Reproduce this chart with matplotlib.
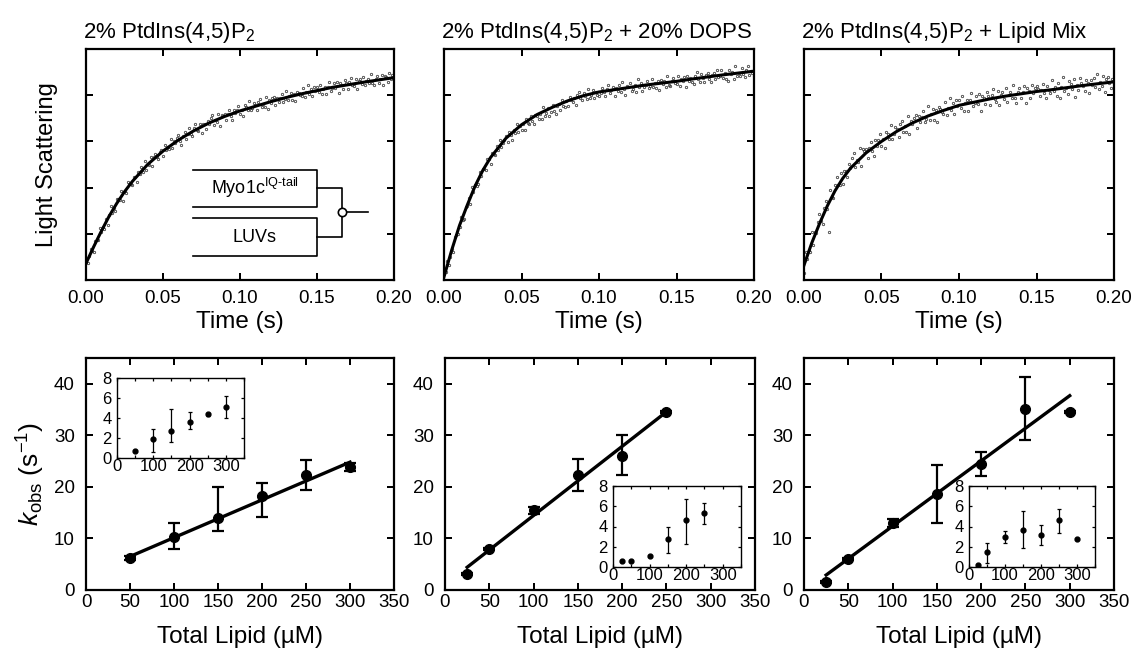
import numpy as np
import matplotlib
matplotlib.use("Agg")
import matplotlib.pyplot as plt
from matplotlib.lines import Line2D

plt.rcParams['font.family'] = ['Liberation Sans', 'DejaVu Sans']
plt.rcParams['mathtext.fontset'] = 'custom'
plt.rcParams['mathtext.rm'] = 'Liberation Sans'
plt.rcParams['mathtext.it'] = 'Liberation Sans:italic'
plt.rcParams['mathtext.bf'] = 'Liberation Sans:bold'

titles = ["2% PtdIns(4,5)P$_2$",
          "2% PtdIns(4,5)P$_2$ + 20% DOPS",
          "2% PtdIns(4,5)P$_2$ + Lipid Mix"]

# ---- top row: light scattering (arb. units, axis 0..5) ----
fit_t = [0, .005, .01, .015, .02, .025, .03, .04, .05, .06, .07, .08, .09, .10,
         .12, .13, .14, .15, .16, .18, .20]
fit_pip2 = [0.36, 0.72, 1.06, 1.38, 1.66, 1.91, 2.13, 2.50, 2.79, 3.03, 3.23, 3.40,
            3.54, 3.66, 3.86, 3.95, 4.03, 4.10, 4.17, 4.28, 4.38]
fit_dops = [0.07, 0.65, 1.18, 1.62, 2.03, 2.37, 2.65, 3.07, 3.36, 3.58, 3.74, 3.88,
            3.99, 4.07, 4.17, 4.22, 4.26, 4.30, 4.35, 4.44, 4.52]
fit_mix = [0.32, 0.80, 1.22, 1.60, 1.93, 2.20, 2.42, 2.75, 3.00, 3.22, 3.40, 3.55,
           3.67, 3.78, 3.92, 3.98, 4.03, 4.08, 4.12, 4.21, 4.29]

# raw traces, one sample per ms from 0 to 0.2 s
raw_pip2 = [0.40, 0.36, 0.51, 0.68, 0.62, 0.61, 0.85, 0.86, 0.87, 1.12,
            1.04, 1.15, 1.10, 1.33, 1.18, 1.40, 1.60, 1.45, 1.55, 1.50,
            1.75, 1.76, 1.73, 1.92, 1.71, 1.93, 1.89, 2.12, 2.08, 2.08,
            2.05, 2.24, 2.24, 2.12, 2.34, 2.30, 2.44, 2.34, 2.57, 2.39,
            2.51, 2.49, 2.66, 2.46, 2.67, 2.73, 2.66, 2.61, 2.76, 2.82,
            2.68, 2.93, 2.81, 2.88, 2.83, 3.06, 2.85, 3.00, 2.96, 3.08,
            3.13, 3.00, 2.93, 3.12, 3.20, 3.06, 3.16, 3.28, 3.15, 3.12,
            3.28, 3.38, 3.24, 3.22, 3.38, 3.19, 3.37, 3.37, 3.27, 3.44,
            3.37, 3.50, 3.57, 3.36, 3.46, 3.42, 3.60, 3.34, 3.58, 3.54,
            3.60, 3.46, 3.59, 3.68, 3.55, 3.47, 3.69, 3.61, 3.69, 3.76,
            3.59, 3.69, 3.56, 3.78, 3.74, 3.68, 3.87, 3.67, 3.73, 3.83,
            3.79, 3.67, 3.85, 3.91, 3.75, 3.82, 3.74, 3.96, 3.70, 3.89,
            3.84, 3.93, 3.97, 3.78, 3.95, 3.86, 3.93, 4.02, 3.86, 3.91,
            4.09, 3.90, 3.98, 4.05, 3.89, 4.03, 3.87, 4.08, 4.04, 4.01,
            3.98, 4.15, 3.96, 4.07, 4.22, 4.03, 4.13, 3.98, 4.17, 4.09,
            4.17, 4.07, 4.23, 4.03, 4.14, 4.18, 4.03, 4.18, 4.28, 4.10,
            4.16, 4.26, 4.15, 4.29, 4.04, 4.26, 4.22, 4.14, 4.33, 4.26,
            4.14, 4.28, 4.38, 4.22, 4.19, 4.34, 4.14, 4.30, 4.34, 4.24,
            4.40, 4.21, 4.30, 4.36, 4.27, 4.46, 4.26, 4.21, 4.36, 4.42,
            4.27, 4.36, 4.44, 4.22, 4.42, 4.39, 4.28, 4.48, 4.36, 4.43,
            4.46]
raw_dops = [0.14, 0.17, 0.42, 0.33, 0.49, 0.68, 0.61, 0.92, 0.98, 0.99,
            1.15, 1.37, 1.29, 1.32, 1.58, 1.61, 1.78, 1.65, 2.01, 1.91,
            2.05, 2.04, 2.08, 2.34, 2.25, 2.41, 2.41, 2.38, 2.61, 2.62,
            2.51, 2.75, 2.72, 2.70, 2.91, 2.82, 3.03, 2.87, 2.96, 3.04,
            3.12, 2.99, 3.21, 3.14, 3.03, 3.25, 3.18, 3.37, 3.21, 3.33,
            3.25, 3.38, 3.24, 3.48, 3.40, 3.38, 3.56, 3.44, 3.37, 3.58,
            3.55, 3.48, 3.60, 3.49, 3.75, 3.56, 3.62, 3.72, 3.56, 3.64,
            3.79, 3.66, 3.59, 3.76, 3.82, 3.68, 3.90, 3.77, 3.74, 3.87,
            3.76, 3.97, 3.89, 3.85, 3.95, 3.79, 4.00, 4.07, 3.93, 3.89,
            4.05, 3.98, 3.91, 4.14, 3.95, 4.00, 4.12, 3.94, 4.06, 4.01,
            3.99,
            4.04, 4.15, 4.08, 3.99, 4.13, 4.21, 4.05, 4.11, 4.17, 3.99,
            4.15, 4.10, 4.23, 4.06, 4.29, 4.13, 4.00, 4.20, 4.17, 4.27,
            4.09, 4.13, 4.22, 4.08, 4.35, 4.18, 4.27, 4.09, 4.18, 4.23,
            4.30, 4.16, 4.20, 4.36, 4.18, 4.26, 4.16, 4.30, 4.12, 4.33,
            4.25, 4.31, 4.17, 4.41, 4.23, 4.20, 4.30, 4.38, 4.27, 4.24,
            4.42, 4.19, 4.35, 4.30, 4.39, 4.18, 4.42, 4.30, 4.37, 4.28,
            4.25, 4.41, 4.50, 4.34, 4.28, 4.45, 4.37, 4.28, 4.43, 4.49,
            4.35, 4.28, 4.43, 4.48, 4.34, 4.54, 4.39, 4.41, 4.54, 4.38,
            4.47, 4.36, 4.31, 4.54, 4.46, 4.51, 4.35, 4.63, 4.41, 4.47,
            4.42, 4.58, 4.46, 4.40, 4.54, 4.63, 4.43, 4.52, 4.47, 4.41]
raw_mix = [0.15, 0.60, 0.46, 0.64, 0.61, 1.03, 0.76, 1.03, 1.02, 1.25,
           1.42, 1.27, 1.21, 1.55, 1.71, 1.54, 1.04, 1.95, 1.79, 1.77,
           2.06, 2.23, 2.06, 2.05, 2.32, 2.07, 2.35, 2.37, 2.23, 2.52,
           2.42, 2.64, 2.75, 2.45, 2.60, 2.56, 2.85, 2.46, 2.84, 2.79,
           2.84, 2.64, 2.85, 2.98, 2.79, 2.68, 3.02, 2.91, 3.03, 3.15,
           2.89, 3.05, 2.86, 3.21, 3.15, 3.06, 3.36, 3.06, 3.16, 3.32,
           3.27, 3.09, 3.37, 3.45, 3.21, 3.33, 3.21, 3.55, 3.15, 3.44,
           3.37, 3.51, 3.57, 3.28, 3.54, 3.42, 3.52, 3.66, 3.41, 3.49,
           3.76, 3.47, 3.59, 3.71, 3.46, 3.67, 3.42, 3.74, 3.70, 3.64,
           3.59, 3.85, 3.57, 3.73, 3.95, 3.68, 3.83, 3.60, 3.90, 3.77,
           3.89, 3.73, 3.98, 3.66, 3.83, 3.90, 3.66, 3.89, 4.04, 3.76,
           3.84, 3.99, 3.82, 4.03, 3.66, 3.98, 3.93, 3.80, 4.08, 3.98,
           3.78, 4.01, 4.14, 3.91, 3.85, 4.09, 3.78, 4.01, 4.08, 3.91,
           4.16, 3.86, 4.01, 4.08, 3.95, 4.23, 3.93, 3.84, 4.08, 4.16,
           3.94, 4.06, 4.19, 3.84, 4.16, 4.10, 3.94, 4.23, 4.05, 4.15,
           4.20,
           4.14, 3.98, 4.11, 4.25, 4.05, 3.94, 4.20, 4.11, 4.04, 4.32,
           4.09, 4.18, 3.99, 4.26, 3.93, 4.18, 4.39, 4.10, 4.16, 4.02,
           4.31, 4.25, 4.13, 4.35, 3.96, 4.22, 4.11, 4.38, 4.27, 4.19,
           4.09, 4.33, 4.27, 4.05, 4.32, 4.21, 4.38, 4.17, 4.46, 4.14,
           4.28, 4.20, 4.42, 4.07, 4.36, 4.40, 4.26, 4.15, 4.34, 4.38]

# ---- bottom row: kobs vs total lipid ----
lip_pip2 = [50, 100, 150, 200, 250, 300]
kobs_pip2 = [6.2, 10.3, 14.0, 18.3, 22.4, 23.8]
klo_pip2 = [0.3, 2.3, 2.5, 4.2, 3.1, 0.8]
khi_pip2 = [0.3, 2.6, 5.9, 2.5, 2.9, 0.9]

lip_dops = [25, 50, 100, 150, 200, 250]
kobs_dops = [3.1, 7.9, 15.6, 22.4, 26.0, 34.6]
klo_dops = [0.2, 0.2, 0.8, 3.2, 3.6, 0.2]
khi_dops = [0.2, 0.2, 0.5, 3.1, 4.0, 0.2]

lip_mix = [25, 50, 100, 150, 200, 250, 300]
kobs_mix = [1.6, 6.1, 12.9, 18.6, 24.4, 35.2, 34.6]
klo_mix = [0.2, 0.2, 0.6, 5.7, 2.3, 6.2, 0.2]
khi_mix = [0.2, 0.2, 0.8, 5.7, 2.4, 6.1, 0.2]

# linear fits: slope, intercept, lipid range
fit_lines = [(0.0732, 2.84, (50, 300)),
             (0.134, 1.06, (25, 250)),
             (0.1265, -0.26, (25, 300))]

# insets
amp_pip2 = [0.74, 1.92, 2.67, 3.61, 4.36, 5.13]
alo_pip2 = [0.1, 1.35, 1.08, 0.67, 0.15, 1.08]
ahi_pip2 = [0.1, 0.95, 2.19, 0.95, 0.15, 1.07]

amp_dops = [0.55, 0.60, 1.1, 2.8, 4.6, 5.3]
alo_dops = [0.05, 0.05, 0.1, 1.4, 2.35, 1.05]
ahi_dops = [0.05, 0.05, 0.1, 1.2, 2.1, 1.05]

amp_mix = [0.2, 1.45, 2.96, 3.68, 3.2, 4.6, 2.76]
alo_mix = [0.05, 1.05, 0.56, 1.78, 1.0, 1.25, 0.05]
ahi_mix = [0.05, 0.95, 0.64, 1.82, 0.9, 1.15, 0.05]

W, H = 1136, 651
fig = plt.figure(figsize=(W / 100, H / 100), dpi=100)


def px_axes(x0, y0, x1, y1):
    return fig.add_axes([x0 / W, 1 - y1 / H, (x1 - x0) / W, (y1 - y0) / H])


def style(ax, lw=1.6, tl=5, fs=13.5, xpad=3, ypad=6):
    for s in ax.spines.values():
        s.set_linewidth(lw)
    ax.tick_params(direction='in', which='both', top=True, right=True,
                   length=tl, width=lw * 0.9, labelsize=fs)
    ax.tick_params(axis='x', pad=xpad)
    ax.tick_params(axis='y', pad=ypad)


top_boxes = [(86, 49, 394, 280), (444, 49, 754, 280), (804, 49, 1114, 280)]
bot_boxes = [(86, 358, 394, 590), (445, 358, 755, 590), (804, 358, 1114, 590)]
inset_boxes = [(117, 378, 244, 458), (613, 486, 741, 567), (969, 486, 1095, 567)]

fits = [fit_pip2, fit_dops, fit_mix]
raws = [raw_pip2, raw_dops, raw_mix]

for i in range(3):
    ax = px_axes(*top_boxes[i])
    t_raw = np.linspace(0, 0.2, len(raws[i]))
    ax.plot(t_raw, raws[i], linestyle='none', marker='o', ms=1.7,
            mfc='none', mec='0.25', mew=0.6)
    ax.plot(fit_t, fits[i], color='black', lw=2.2)
    ax.set_xlim(0, 0.2)
    ax.set_ylim(0, 5)
    ax.set_xticks([0, 0.05, 0.10, 0.15, 0.20])
    ax.set_xticklabels(['0.00', '0.05', '0.10', '0.15', '0.20'])
    ax.set_yticks([1, 2, 3, 4])
    ax.set_yticklabels([])
    style(ax, xpad=7)
    ax.set_xlabel('Time (s)', fontsize=17.5, labelpad=3)
    ax.set_title(titles[i], loc='left', fontsize=16, pad=8, x=-0.01)
    if i == 0:
        ax.set_ylabel('Light Scattering', fontsize=17, labelpad=14)
        # stopped-flow mixing schematic
        tr = ax.transAxes
        kw = dict(color='black', lw=1.2, transform=tr)
        bx0, bx1, xc, xe = 0.347, 0.75, 0.831, 0.916
        for ya, yb in [(0.476, 0.316), (0.268, 0.104)]:
            ax.add_line(Line2D([bx0, bx1, bx1, bx0], [ya, ya, yb, yb], **kw))
        ax.add_line(Line2D([bx1, xc, xc, bx1], [0.398, 0.398, 0.186, 0.186], **kw))
        ax.add_line(Line2D([xc, xe], [0.295, 0.295], **kw))
        ax.plot([xc], [0.295], marker='o', ms=6, mfc='white', mec='black',
                mew=1.2, transform=tr, zorder=5)
        ax.text((bx0 + bx1) / 2, 0.398, r'Myo1c$^{\mathrm{IQ\text{-}tail}}$',
                transform=tr, ha='center', va='center', fontsize=13)
        ax.text((bx0 + bx1) / 2, 0.186, 'LUVs', transform=tr,
                ha='center', va='center', fontsize=13)

lips = [lip_pip2, lip_dops, lip_mix]
kobs = [kobs_pip2, kobs_dops, kobs_mix]
klo = [klo_pip2, klo_dops, klo_mix]
khi = [khi_pip2, khi_dops, khi_mix]
amps = [amp_pip2, amp_dops, amp_mix]
alo = [alo_pip2, alo_dops, alo_mix]
ahi = [ahi_pip2, ahi_dops, ahi_mix]

for i in range(3):
    ax = px_axes(*bot_boxes[i])
    slope, icpt, (xa, xb) = fit_lines[i]
    xl = np.array([xa, xb])
    ax.plot(xl, slope * xl + icpt, color='black', lw=2.4, zorder=2)
    ax.errorbar(lips[i], kobs[i], yerr=[klo[i], khi[i]], fmt='o', color='black',
                ms=7, elinewidth=1.6, capsize=4, capthick=1.6, zorder=3)
    ax.set_xlim(0, 350)
    ax.set_ylim(0, 45)
    ax.set_xticks(range(0, 351, 50))
    ax.set_yticks(range(0, 41, 10))
    style(ax, xpad=3, ypad=8)
    ax.set_xlabel('Total Lipid (\u00b5M)', fontsize=17.5, labelpad=11)
    if i == 0:
        ax.set_ylabel(r'$k_{\mathrm{obs}}$ (s$^{-1}$)', fontsize=19, labelpad=5)

    ins = px_axes(*inset_boxes[i])
    ins.errorbar(lips[i], amps[i], yerr=[alo[i], ahi[i]], fmt='o', color='black',
                 ms=3.5, elinewidth=0.9, capsize=1.5, capthick=0.9)
    ins.set_xlim(0, 350)
    ins.set_ylim(0, 8)
    ins.set_xticks([0, 100, 200, 300])
    ins.set_xticks([50, 150, 250, 350], minor=True)
    ins.set_yticks([0, 2, 4, 6, 8])
    style(ins, lw=1.0, tl=2.5, fs=12, xpad=1, ypad=4)
    ins.tick_params(which='minor', length=2.5)

fig.savefig('out.png', dpi=100)
